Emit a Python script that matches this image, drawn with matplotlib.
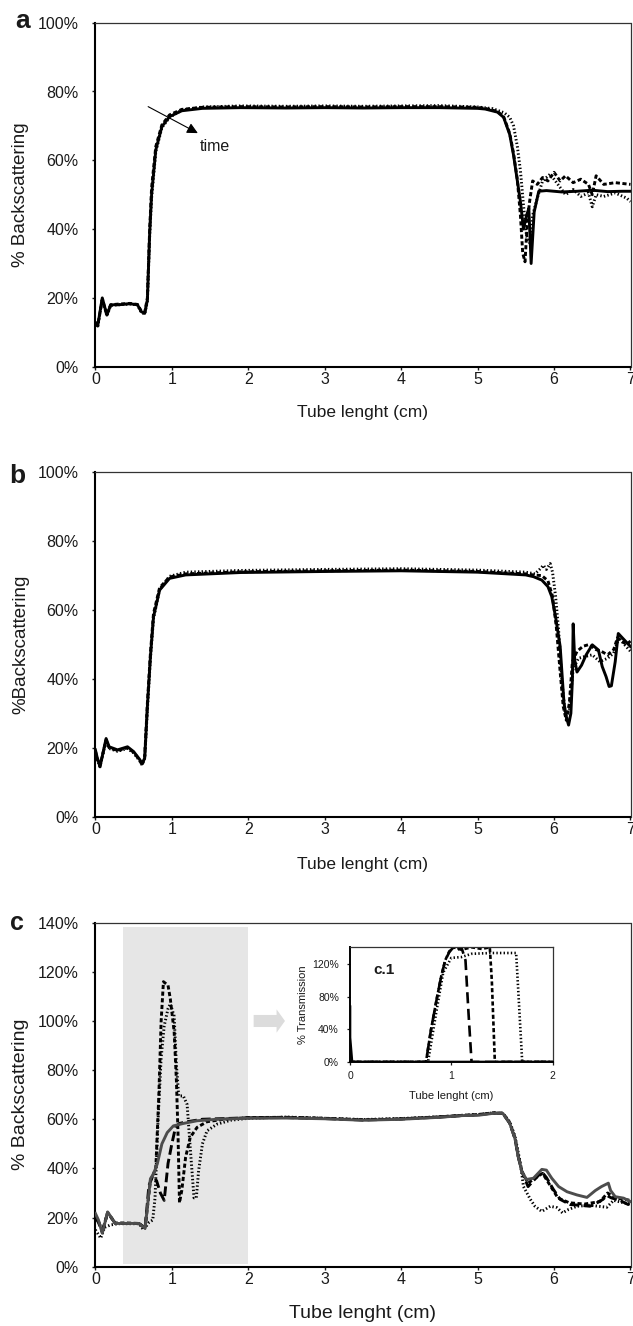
import matplotlib
matplotlib.use('Agg')
import matplotlib.pyplot as plt
from matplotlib.ticker import FuncFormatter, MultipleLocator
from matplotlib.patches import FancyArrow, Rectangle

plt.rcParams['font.family'] = ['Liberation Sans', 'DejaVu Sans']
plt.rcParams['lines.scale_dashes'] = False

# ---------------- Panel a ----------------
a_solid_x = [0.00, 0.03, 0.09, 0.15, 0.20, 0.30, 0.45, 0.55, 0.60, 0.645, 0.68, 0.71, 0.735, 0.79, 0.87, 0.97, 1.13, 1.40, 1.90, 2.50, 3.00, 3.50, 4.00, 4.50, 5.00, 5.10, 5.26, 5.34, 5.42, 5.47, 5.52, 5.56, 5.60, 5.64, 5.67, 5.70, 5.74, 5.80, 5.90, 6.10, 6.30, 6.50, 6.70, 6.90, 7.00]
a_solid_y = [12.6, 11.8, 20.0, 15.0, 18.0, 18.0, 18.3, 18.0, 16.0, 15.5, 19.4, 38.8, 50.0, 63.0, 69.8, 72.7, 74.4, 75.1, 75.3, 75.2, 75.3, 75.2, 75.3, 75.3, 75.1, 74.9, 74.0, 72.5, 67.5, 61.5, 54.0, 48.0, 40.0, 44.0, 46.0, 30.0, 45.0, 51.0, 51.2, 50.8, 51.0, 51.3, 50.9, 51.0, 51.0]

a_dash_x = [0.00, 0.03, 0.09, 0.15, 0.20, 0.30, 0.45, 0.55, 0.60, 0.645, 0.68, 0.71, 0.735, 0.79, 0.87, 0.97, 1.13, 1.40, 1.90, 2.50, 3.00, 3.50, 4.00, 4.50, 5.00, 5.10, 5.26, 5.34, 5.42, 5.47, 5.52, 5.56, 5.59, 5.62, 5.65, 5.68, 5.72, 5.78, 5.85, 5.92, 6.00, 6.08, 6.15, 6.25, 6.35, 6.45, 6.50, 6.55, 6.65, 6.80, 7.00]
a_dash_y = [13.0, 12.0, 19.5, 15.2, 18.0, 18.2, 18.4, 18.1, 16.2, 15.8, 20.0, 40.0, 52.0, 64.0, 70.3, 73.2, 74.8, 75.4, 75.6, 75.5, 75.6, 75.5, 75.6, 75.6, 75.4, 75.1, 74.2, 72.7, 67.8, 62.0, 54.3, 44.0, 33.0, 30.5, 42.0, 48.0, 54.0, 53.0, 55.0, 54.0, 56.5, 54.0, 55.5, 53.5, 54.5, 53.0, 50.0, 55.5, 53.0, 53.5, 53.0]

a_dot_x = [0.00, 0.03, 0.09, 0.15, 0.20, 0.30, 0.45, 0.55, 0.60, 0.645, 0.68, 0.71, 0.735, 0.79, 0.87, 0.97, 1.13, 1.40, 1.90, 2.50, 3.00, 3.50, 4.00, 4.50, 5.00, 5.20, 5.35, 5.42, 5.47, 5.52, 5.56, 5.60, 5.64, 5.68, 5.72, 5.78, 5.85, 5.95, 6.05, 6.15, 6.25, 6.35, 6.45, 6.50, 6.55, 6.65, 6.80, 6.95, 7.00]
a_dot_y = [12.0, 11.5, 19.8, 14.8, 17.8, 18.0, 18.2, 18.0, 15.8, 15.3, 19.0, 38.0, 49.0, 62.5, 69.5, 72.5, 74.6, 75.5, 75.8, 75.7, 75.8, 75.7, 75.8, 75.9, 75.5, 75.0, 73.8, 72.5, 70.0, 64.0, 57.0, 47.0, 38.0, 36.0, 44.0, 49.0, 54.0, 56.0, 53.0, 50.0, 51.5, 49.5, 50.5, 46.5, 50.0, 49.5, 50.5, 49.0, 48.0]

# ---------------- Panel b ----------------
b_solid_x = [0.00, 0.02, 0.06, 0.14, 0.18, 0.29, 0.42, 0.50, 0.58, 0.61, 0.645, 0.68, 0.72, 0.76, 0.84, 0.97, 1.18, 1.90, 3.00, 4.00, 5.00, 5.63, 5.73, 5.84, 5.92, 5.97, 6.02, 6.08, 6.13, 6.16, 6.19, 6.22, 6.24, 6.25, 6.27, 6.30, 6.36, 6.42, 6.50, 6.58, 6.63, 6.68, 6.72, 6.75, 6.80, 6.84, 6.92, 7.00]
b_solid_y = [19.4, 17.5, 14.5, 22.7, 20.3, 19.4, 20.3, 18.9, 16.6, 15.3, 17.0, 32.0, 46.5, 58.0, 65.8, 69.2, 70.2, 70.9, 71.2, 71.4, 71.0, 70.2, 69.7, 68.7, 66.8, 63.9, 58.0, 49.4, 33.0, 29.0, 26.6, 30.0, 39.7, 56.0, 45.5, 42.0, 44.0, 47.0, 49.9, 48.4, 43.6, 40.7, 37.8, 38.0, 45.0, 53.2, 51.3, 49.4]

b_dash_x = [0.00, 0.02, 0.06, 0.14, 0.18, 0.29, 0.42, 0.50, 0.58, 0.61, 0.645, 0.68, 0.72, 0.76, 0.84, 0.97, 1.18, 1.90, 3.00, 4.00, 5.00, 5.63, 5.73, 5.84, 5.92, 5.98, 6.03, 6.08, 6.12, 6.16, 6.20, 6.24, 6.30, 6.38, 6.46, 6.55, 6.62, 6.70, 6.78, 6.83, 6.88, 6.95, 7.00]
b_dash_y = [19.0, 17.0, 14.8, 22.3, 20.0, 19.2, 20.0, 18.7, 16.4, 15.0, 17.5, 33.0, 47.5, 59.0, 66.5, 69.6, 70.5, 71.1, 71.4, 71.6, 71.2, 70.5, 70.2, 70.0, 68.5, 64.0, 55.0, 42.0, 32.0, 28.0, 33.0, 45.0, 48.0, 49.5, 50.0, 48.5, 48.0, 47.0, 48.5, 52.0, 51.0, 50.0, 51.0]

b_dot_x = [0.00, 0.02, 0.06, 0.14, 0.18, 0.29, 0.42, 0.50, 0.58, 0.61, 0.645, 0.68, 0.72, 0.76, 0.84, 0.97, 1.18, 1.90, 3.00, 4.00, 5.00, 5.63, 5.75, 5.82, 5.86, 5.90, 5.95, 5.98, 6.02, 6.06, 6.10, 6.15, 6.20, 6.25, 6.32, 6.40, 6.50, 6.60, 6.70, 6.78, 6.85, 6.92, 7.00]
b_dot_y = [18.8, 16.8, 14.5, 22.0, 19.8, 19.0, 19.8, 18.5, 16.2, 15.0, 17.0, 31.0, 46.0, 57.5, 66.0, 69.8, 71.0, 71.5, 71.8, 72.0, 71.6, 71.0, 70.5, 72.0, 73.0, 71.8, 73.5, 71.0, 64.0, 54.0, 40.0, 29.0, 31.0, 43.0, 46.0, 46.5, 47.0, 45.0, 46.0, 47.5, 52.0, 50.0, 48.0]

# ---------------- Panel c ----------------
c_solid_x = [0.00, 0.04, 0.09, 0.16, 0.26, 0.40, 0.57, 0.65, 0.72, 0.76, 0.81, 0.87, 0.94, 1.02, 1.15, 1.33, 1.59, 2.00, 2.50, 3.00, 3.50, 4.00, 4.50, 4.80, 5.00, 5.20, 5.33, 5.42, 5.49, 5.53, 5.58, 5.64, 5.73, 5.84, 5.90, 5.97, 6.06, 6.17, 6.30, 6.43, 6.54, 6.62, 6.71, 6.74, 6.80, 6.91, 7.00]
c_solid_y = [21.7, 19.0, 13.6, 22.3, 17.6, 17.6, 17.6, 15.6, 35.8, 37.8, 41.9, 50.0, 54.6, 57.3, 58.3, 59.4, 60.0, 60.4, 60.5, 60.2, 59.6, 60.0, 60.8, 61.5, 61.6, 62.4, 62.4, 58.4, 52.0, 45.0, 38.6, 35.5, 36.0, 39.6, 39.3, 36.0, 32.6, 30.5, 29.2, 28.2, 31.0, 32.6, 34.0, 31.0, 28.5, 27.9, 26.5]

c_long_x = [0.00, 0.04, 0.09, 0.16, 0.26, 0.40, 0.57, 0.65, 0.70, 0.75, 0.80, 0.85, 0.90, 0.95, 1.00, 1.05, 1.10, 1.20, 1.40, 1.70, 2.00, 2.50, 3.00, 3.50, 4.00, 4.50, 4.80, 5.00, 5.20, 5.33, 5.42, 5.49, 5.53, 5.58, 5.66, 5.73, 5.84, 5.90, 5.99, 6.08, 6.21, 6.34, 6.47, 6.56, 6.64, 6.69, 6.75, 6.86, 6.97, 7.00]
c_long_y = [20.0, 18.0, 14.0, 22.0, 17.6, 17.6, 17.6, 15.6, 33.0, 37.0, 35.0, 30.0, 27.0, 42.0, 50.0, 57.0, 58.3, 59.0, 60.0, 60.3, 60.6, 60.7, 60.3, 59.7, 60.1, 60.9, 61.5, 61.8, 62.5, 62.4, 58.4, 52.0, 45.0, 38.6, 32.6, 35.0, 38.6, 36.3, 31.5, 27.4, 25.3, 25.0, 24.6, 26.0, 27.4, 29.0, 28.0, 27.0, 25.3, 26.0]

c_short_x = [0.00, 0.04, 0.09, 0.16, 0.26, 0.40, 0.57, 0.65, 0.72, 0.79, 0.83, 0.86, 0.89, 0.95, 0.98, 1.03, 1.06, 1.08, 1.10, 1.13, 1.18, 1.24, 1.33, 1.46, 1.68, 2.00, 2.50, 3.00, 3.50, 4.00, 4.50, 4.80, 5.00, 5.20, 5.33, 5.42, 5.49, 5.53, 5.58, 5.66, 5.75, 5.85, 5.95, 6.05, 6.20, 6.40, 6.60, 6.70, 6.80, 7.00]
c_short_y = [20.5, 18.5, 14.5, 22.0, 17.8, 17.8, 17.6, 15.8, 35.0, 40.0, 70.0, 100.0, 116.0, 114.5, 109.0, 95.7, 75.5, 55.0, 26.0, 31.0, 44.5, 52.6, 56.7, 59.0, 60.0, 60.7, 60.8, 60.4, 59.8, 60.2, 61.0, 61.6, 61.9, 62.6, 62.5, 58.6, 52.2, 45.2, 38.8, 34.0, 36.0, 38.0, 33.0, 28.0, 26.0, 25.5, 26.5, 30.0, 28.0, 27.0]

c_dot_x = [0.00, 0.07, 0.12, 0.20, 0.30, 0.57, 0.63, 0.70, 0.75, 0.78, 0.82, 0.86, 0.90, 0.95, 0.98, 1.03, 1.06, 1.09, 1.15, 1.20, 1.24, 1.29, 1.32, 1.35, 1.40, 1.46, 1.59, 1.77, 2.00, 2.50, 3.00, 3.50, 4.00, 4.50, 4.80, 5.00, 5.20, 5.33, 5.42, 5.49, 5.56, 5.60, 5.69, 5.75, 5.84, 5.95, 6.04, 6.11, 6.19, 6.30, 6.47, 6.69, 6.78, 6.95, 7.00]
c_dot_y = [15.0, 11.6, 16.0, 17.0, 17.5, 17.5, 15.0, 18.0, 19.0, 28.0, 60.0, 85.0, 98.0, 105.0, 107.0, 102.0, 82.0, 69.5, 69.5, 66.0, 48.6, 28.0, 28.0, 39.0, 50.0, 55.3, 58.0, 59.6, 60.4, 60.9, 60.4, 59.9, 60.3, 61.0, 61.6, 61.9, 62.6, 62.4, 59.0, 53.0, 42.0, 32.6, 27.4, 24.6, 22.5, 24.6, 24.0, 21.9, 23.3, 24.6, 25.0, 24.2, 27.0, 25.7, 26.0]

# ---------------- Inset c.1 ----------------
ins_solid_x = [0.00, 0.00, 0.02, 2.00]
ins_solid_y = [68, 30, 0, 0]
ins_long_x = [0.00, 0.75, 0.80, 0.86, 0.90, 0.94, 0.98, 1.02, 1.06, 1.10, 1.14, 1.17, 1.20, 2.00]
ins_long_y = [0, 0, 40, 80, 105, 125, 135, 141, 138, 141, 125, 60, 0, 0]
ins_short_x = [0.00, 0.75, 0.80, 0.86, 0.90, 0.94, 0.98, 1.02, 1.10, 1.20, 1.30, 1.38, 1.40, 1.43, 2.00]
ins_short_y = [0, 0, 40, 80, 105, 125, 136, 141, 138, 141, 139, 141, 100, 0, 0]
ins_dot_x = [0.00, 0.77, 0.85, 0.92, 1.00, 1.10, 1.20, 1.40, 1.64, 1.66, 1.70, 2.00]
ins_dot_y = [0, 0, 60, 110, 128, 129, 133, 134, 134, 90, 0, 0]

x_ticks = [0, 1, 2, 3, 4, 5, 6, 7]
ins_x_ticks = [0, 1, 2]
ins_y_ticks = [0, 40, 80, 120]

# ---------------------------------------------------------------
W, H = 633, 1326
fig = plt.figure(figsize=(W / 100, H / 100), dpi=100)

TXT = '#1a1a1a'
pct = FuncFormatter(lambda v, p: f"{v:.0f}%")

LONG = (0, (7, 3))
SHORT = (0, (3, 1.8))
DOT = (0, (1, 1.6))


def make_axes(left_px, top_px, right_px, bottom_px):
    return fig.add_axes([left_px / W, 1 - bottom_px / H,
                         (right_px - left_px) / W, (bottom_px - top_px) / H])


def style_main(ax, ymax, ystep, ylabel, xl_size, yl_size, xl_y):
    ax.set_xlim(0, 7)
    ax.set_ylim(0, ymax)
    ax.set_xticks(x_ticks)
    ax.yaxis.set_major_locator(MultipleLocator(ystep))
    ax.yaxis.set_major_formatter(pct)
    for s in ['left', 'bottom']:
        ax.spines[s].set_linewidth(1.5)
        ax.spines[s].set_color('black')
    for s in ['top', 'right']:
        ax.spines[s].set_linewidth(0.9)
        ax.spines[s].set_color('#333333')
    ax.tick_params(axis='x', direction='out', length=2.5, width=1, pad=1.5,
                   labelsize=11.5, colors=TXT)
    ax.tick_params(axis='y', direction='out', length=2.5, width=1, pad=9.5,
                   labelsize=11.5, colors=TXT)
    ax.set_xlabel('Tube lenght (cm)', fontsize=xl_size, color=TXT)
    ax.xaxis.set_label_coords(0.5, xl_y)
    ax.set_ylabel(ylabel, fontsize=yl_size, color=TXT)
    ax.yaxis.set_label_coords(-0.124, 0.5)


LW = 2.1

# ---- a ----
axa = make_axes(95.4, 22.7, 630.5, 366.7)
axa.plot(a_dot_x, a_dot_y, color='black', lw=LW, linestyle=DOT)
axa.plot(a_dash_x, a_dash_y, color='black', lw=LW, linestyle=SHORT)
axa.plot(a_solid_x, a_solid_y, color='black', lw=LW)
style_main(axa, 100, 20, '% Backscattering', 12.5, 13.5, -0.112)
axa.annotate('', xy=(1.34, 67.9), xytext=(0.69, 75.6),
             arrowprops=dict(arrowstyle='-|>', color='black', lw=0.8,
                             mutation_scale=16, shrinkA=0, shrinkB=0))
axa.text(1.37, 64.0, 'time', fontsize=11.5, ha='left', va='center', color=TXT)

# ---- b ----
axb = make_axes(95.4, 472.3, 630.5, 816.7)
axb.plot(b_dot_x, b_dot_y, color='black', lw=LW, linestyle=DOT)
axb.plot(b_dash_x, b_dash_y, color='black', lw=LW, linestyle=SHORT)
axb.plot(b_solid_x, b_solid_y, color='black', lw=LW)
style_main(axb, 100, 20, '%Backscattering', 12.5, 13.5, -0.116)

# ---- c ----
axc = make_axes(95.4, 922.7, 630.5, 1266.7)
axc.add_patch(Rectangle((0.365, 1.1), 2.0 - 0.365, 138.1 - 1.1,
                        facecolor='#e6e6e6', edgecolor='none', zorder=0))
axc.add_patch(FancyArrow(2.07, 100.0, 0.41, 0.0, width=4.9, head_width=9.5,
                         head_length=0.11, length_includes_head=True,
                         facecolor='#dcdcdc', edgecolor='none', zorder=1))
axc.plot(c_dot_x, c_dot_y, color='black', lw=LW, linestyle=DOT, zorder=3)
axc.plot(c_short_x, c_short_y, color='black', lw=LW, linestyle=SHORT, zorder=3)
axc.plot(c_long_x, c_long_y, color='black', lw=LW, linestyle=LONG, zorder=3)
axc.plot(c_solid_x, c_solid_y, color='#4d4d4d', lw=LW, zorder=4)
style_main(axc, 140, 20, '% Backscattering', 14, 14, -0.111)

# ---- inset c.1 ----
axi = make_axes(350, 947.3, 552.6, 1062)
axi.plot(ins_dot_x, ins_dot_y, color='black', lw=1.9, linestyle=DOT)
axi.plot(ins_short_x, ins_short_y, color='black', lw=1.9, linestyle=SHORT)
axi.plot(ins_long_x, ins_long_y, color='black', lw=1.9, linestyle=(0, (8, 4)))
axi.plot(ins_solid_x, ins_solid_y, color='black', lw=1.9)
axi.set_xlim(0, 2)
axi.set_ylim(0, 141)
axi.set_xticks(ins_x_ticks)
axi.set_yticks(ins_y_ticks)
axi.yaxis.set_major_formatter(pct)
for s in ['left', 'bottom']:
    axi.spines[s].set_linewidth(1.4)
for s in ['top', 'right']:
    axi.spines[s].set_linewidth(0.9)
    axi.spines[s].set_color('#333333')
axi.tick_params(axis='x', direction='out', length=2, width=0.9, pad=4.5,
                labelsize=7.5, colors=TXT)
axi.tick_params(axis='y', direction='out', length=2, width=0.9, pad=6,
                labelsize=7.5, colors=TXT)
axi.set_xlabel('Tube lenght (cm)', fontsize=8, color=TXT)
axi.xaxis.set_label_coords(0.5, -0.25)
axi.set_ylabel('% Transmission', fontsize=8, color=TXT)
axi.yaxis.set_label_coords(-0.205, 0.5)
axi.text(0.23, 113, 'c.1', fontsize=11, fontweight='bold', ha='left',
         va='center', color=TXT)

# panel letters
fig.text(15 / W, 1 - 27.7 / H, 'a', fontsize=19, fontweight='bold',
         ha='left', va='baseline', color=TXT)
fig.text(9 / W, 1 - 483 / H, 'b', fontsize=19, fontweight='bold',
         ha='left', va='baseline', color=TXT)
fig.text(10 / W, 1 - 930 / H, 'c', fontsize=18, fontweight='bold',
         ha='left', va='baseline', color=TXT)

fig.savefig('out.png', dpi=100)
